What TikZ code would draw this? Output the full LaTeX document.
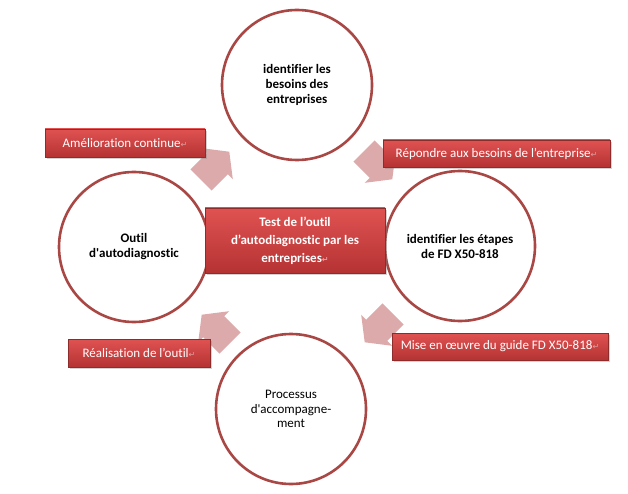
\documentclass[tikz,border=0pt]{standalone}
\usepackage{fontspec}
\setmainfont{Carlito}[Ligatures={TeX,NoCommon}]
\newfontfamily\symbfont{DejaVu Sans}
\usetikzlibrary{shadows}

\definecolor{cerclerouge}{HTML}{A94745}
\definecolor{flecherose}{HTML}{DCAAAA}
\definecolor{boitehaut}{HTML}{E05252}
\definecolor{boitebas}{HTML}{B53333}
\definecolor{boitebord}{HTML}{8E2C2C}
\definecolor{marquepar}{HTML}{D9A0A0}

% marque de paragraphe
\newcommand{\finpar}{{\symbfont\fontsize{8}{8}\selectfont\color{marquepar}↵}}
% fleche pleine (queue en (0,0), pointe vers +x)
\newcommand{\fleche}{\fill[flecherose] (0,15) -- (23,15) -- (23,22) -- (40,0)
	-- (23,-22) -- (23,-15) -- (0,-15) -- cycle;}

\tikzset{
	cercle/.style={circle, draw=cerclerouge, line width=2.6pt, fill=white,
		minimum size=150pt, inner sep=0pt, align=center,
		font=\fontsize{13}{15}\selectfont\bfseries},
	boite/.style={rectangle, draw=boitebord, line width=0.6pt,
		top color=boitehaut, bottom color=boitebas, text=white, inner sep=0pt,
		drop shadow={opacity=0.35, shadow xshift=2pt, shadow yshift=-2pt},
		font=\fontsize{13}{15}\selectfont},
}

\begin{document}
\begin{tikzpicture}[x=1pt, y=-1pt]
	\useasboundingbox (0,0) rectangle (628,494);
	
	% --- LES QUATRE CERCLES ---
	\node[cercle] (besoins) at (297,85) {identifier les\\besoins des\\entreprises};
	\node[cercle] (etapes) at (460,246) {identifier les étapes\\de FD X50-818};
	\node[cercle, font=\fontsize{13}{14.5}\selectfont] (accompagnement) at (291,409)
		{Processus\\d\textquotesingle accompagne-\\ment};
	\node[cercle] (outil) at (134,247) {Outil\\d\textquotesingle autodiagnostic};
	
	% --- LES FLECHES (sens horaire) ---
	\foreach \a in {0,-90,-180,-270}{
		\begin{scope}[rotate around={\a:(297,247)}, shift={(201,180)}, rotate=45]
			\fleche
		\end{scope}
	}
	
	% --- BOITE CENTRALE ---
	\node[boite, minimum width=180pt, minimum height=65pt, align=center,
		font=\fontsize{13}{18}\selectfont\bfseries] (test) at (295,240.5)
		{Test de l’outil\\d’autodiagnostic par les\\entreprises\finpar};
	
	% --- ETIQUETTES ---
	\node[boite, minimum width=160pt, minimum height=28pt] (amelioration) at (125,143)
		{Amélioration continue\finpar};
	\node[boite, minimum width=227pt, minimum height=27pt] (repondre) at (496.5,153.5)
		{Répondre aux besoins de l’entreprise\finpar};
	\node[boite, minimum width=142pt, minimum height=28pt] (realisation) at (139,353)
		{Réalisation de l’outil\finpar};
	\node[boite, minimum width=216pt, minimum height=27pt] (miseenoeuvre) at (500,346.5)
		{Mise en œuvre du guide FD X50-818\finpar};
	
\end{tikzpicture}
\end{document}
